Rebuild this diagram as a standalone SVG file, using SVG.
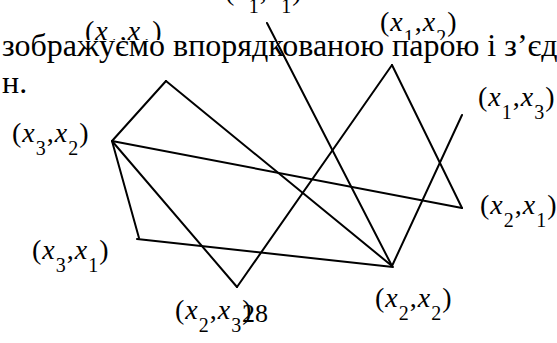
<svg xmlns="http://www.w3.org/2000/svg" width="557" height="343" viewBox="0 0 557 343">
<style>
text{font-family:"Liberation Serif","Times New Roman",Times,serif;fill:#000}
.lbl{font-size:28px;letter-spacing:1px}
.v{font-style:italic}
.s{font-size:20px}
.txt{font-size:32px}
.e{stroke:#000;stroke-width:2;fill:none;stroke-linecap:round}
</style>
<rect width="557" height="343" fill="#fff"/>
<g id="n-x1x1-top"><text class="lbl" x="225" y="0">(<tspan class="v">x</tspan><tspan class="s" dy="13">1</tspan><tspan dy="-13">,</tspan><tspan class="v">x</tspan><tspan class="s" dy="13">1</tspan><tspan dy="-13">)</tspan></text></g>
<g id="n-x1x1"><text class="lbl" x="85" y="40">(<tspan class="v">x</tspan><tspan class="s" dy="13">1</tspan><tspan dy="-13">,</tspan><tspan class="v">x</tspan><tspan class="s" dy="13">1</tspan><tspan dy="-13">)</tspan></text></g>
<g id="n-x1x2"><text class="lbl" x="380" y="31">(<tspan class="v">x</tspan><tspan class="s" dy="13">1</tspan><tspan dy="-13">,</tspan><tspan class="v">x</tspan><tspan class="s" dy="13">2</tspan><tspan dy="-13">)</tspan></text></g>
<rect x="0" y="40" width="557" height="22" fill="#fff"/>
<text class="txt" x="2" y="56">зображуємо впорядкованою парою і з’єд</text>
<text class="txt" x="2" y="93">н.</text>
<g id="n-x1x3"><text class="lbl" x="478" y="106">(<tspan class="v">x</tspan><tspan class="s" dy="13">1</tspan><tspan dy="-13">,</tspan><tspan class="v">x</tspan><tspan class="s" dy="13">3</tspan><tspan dy="-13">)</tspan></text></g>
<g id="n-x3x2"><text class="lbl" x="12" y="142">(<tspan class="v">x</tspan><tspan class="s" dy="13">3</tspan><tspan dy="-13">,</tspan><tspan class="v">x</tspan><tspan class="s" dy="13">2</tspan><tspan dy="-13">)</tspan></text></g>
<g id="n-x2x1"><text class="lbl" x="480" y="214">(<tspan class="v">x</tspan><tspan class="s" dy="13">2</tspan><tspan dy="-13">,</tspan><tspan class="v">x</tspan><tspan class="s" dy="13">1</tspan><tspan dy="-13">)</tspan></text></g>
<g id="n-x3x1"><text class="lbl" x="32" y="259">(<tspan class="v">x</tspan><tspan class="s" dy="13">3</tspan><tspan dy="-13">,</tspan><tspan class="v">x</tspan><tspan class="s" dy="13">1</tspan><tspan dy="-13">)</tspan></text></g>
<g id="n-x2x3"><text class="lbl" x="175" y="319">(<tspan class="v">x</tspan><tspan class="s" dy="13">2</tspan><tspan dy="-13">,</tspan><tspan class="v">x</tspan><tspan class="s" dy="13">3</tspan><tspan dy="-13">)</tspan></text></g>
<g id="n-x2x2"><text class="lbl" x="375" y="307">(<tspan class="v">x</tspan><tspan class="s" dy="13">2</tspan><tspan dy="-13">,</tspan><tspan class="v">x</tspan><tspan class="s" dy="13">2</tspan><tspan dy="-13">)</tspan></text></g>
<text x="242" y="322" style="font-size:26px">28</text>
<g id="connectors">
<line class="e" x1="166" y1="81" x2="112" y2="141"/>
<line class="e" x1="166" y1="81" x2="392" y2="266"/>
<line class="e" x1="112" y1="141" x2="462" y2="208"/>
<line class="e" x1="112" y1="141" x2="139" y2="238"/>
<line class="e" x1="112" y1="141" x2="237" y2="287"/>
<line class="e" x1="237" y1="287" x2="392" y2="65"/>
<line class="e" x1="392" y1="65" x2="462" y2="208"/>
<line class="e" x1="462" y1="115" x2="392" y2="266"/>
<line class="e" x1="267" y1="23" x2="392" y2="266"/>
<line class="e" x1="137" y1="239" x2="393" y2="267"/>
</g>
</svg>
